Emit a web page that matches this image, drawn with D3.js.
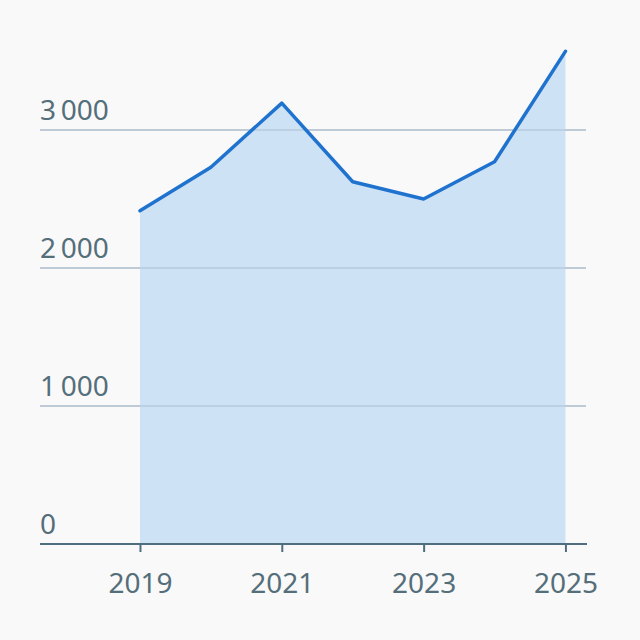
<!DOCTYPE html>
<html>
<head>
<meta charset="utf-8">
<script src="https://cdn.jsdelivr.net/npm/d3@7"></script>
<style>
  html, body { margin: 0; padding: 0; background: #f9f9f9; }
  svg text { font-family: "Noto Sans", "Open Sans", sans-serif; font-weight: 400; fill: #546e7a; }
</style>
</head>
<body>
<div class="svg-wrapper"></div>
<script>
var years  = [2019, 2020, 2021, 2022, 2023, 2024, 2025];
var values = [2415, 2730, 3195, 2625, 2500, 2770, 3570];
var xTicks = [2019, 2021, 2023, 2025];
var yTicks = [0, 1000, 2000, 3000];

var width  = 640,
    height = 640,
    margin = {top: 20, right: 54, bottom: 96, left: 40};

var svg = d3.select(".svg-wrapper").append("svg")
  .attr("width", width)
  .attr("height", height);

var x = d3.scaleLinear().domain([2017.59, 2025.29]).range([margin.left, width - margin.right]);
var y = d3.scaleLinear().domain([0, 3000]).range([544, 130]);

var fmt = function(d) { return d3.format(",")(d).replace(",", "\u2009"); };

// grid
svg.append("g").selectAll("line")
  .data(yTicks.slice(1))
  .join("line")
    .attr("x1", margin.left)
    .attr("x2", width - margin.right)
    .attr("y1", function(d) { return y(d); })
    .attr("y2", function(d) { return y(d); })
    .attr("stroke", "#c2cfd9")
    .attr("stroke-width", 1.5);

// area
var area = d3.area()
  .x(function(d, i) { return x(years[i]); })
  .y0(y(0))
  .y1(function(d) { return y(d); });

svg.append("path")
  .datum(values)
  .attr("d", area)
  .attr("fill", "#cde2f5");

// grid over area (visible through)
svg.append("g").selectAll("line")
  .data(yTicks.slice(1))
  .join("line")
    .attr("x1", margin.left)
    .attr("x2", width - margin.right)
    .attr("y1", function(d) { return y(d); })
    .attr("y2", function(d) { return y(d); })
    .attr("stroke", "#9fb4c6")
    .attr("stroke-opacity", 0.5)
    .attr("stroke-width", 1.5);

// line
var line = d3.line()
  .x(function(d, i) { return x(years[i]); })
  .y(function(d) { return y(d); });

svg.append("path")
  .datum(values)
  .attr("d", line)
  .attr("fill", "none")
  .attr("stroke", "#1f73cf")
  .attr("stroke-width", 3.5)
  .attr("stroke-linejoin", "round")
  .attr("stroke-linecap", "round");

// y labels
svg.append("g").selectAll("text")
  .data(yTicks)
  .join("text")
    .attr("x", margin.left)
    .attr("y", function(d) { return y(d) - 10; })
    .attr("font-size", 28)
    .text(fmt);

// x axis
var xAxis = d3.axisBottom(x).tickValues(xTicks).tickFormat(d3.format("d")).tickSize(8).tickPadding(21);
var gx = svg.append("g")
  .attr("transform", "translate(0," + y(0) + ")")
  .call(xAxis);
gx.select(".domain")
  .attr("d", "M" + margin.left + ",0H" + (width - margin.right + 1))
  .attr("stroke", "#4e6e80")
  .attr("stroke-width", 2);
gx.selectAll(".tick line").attr("stroke", "#4e6e80").attr("stroke-width", 2);
gx.selectAll(".tick text").attr("font-size", 28).attr("fill", "#546e7a")
  .attr("font-family", null).attr("font-weight", null);
</script>
</body>
</html>
